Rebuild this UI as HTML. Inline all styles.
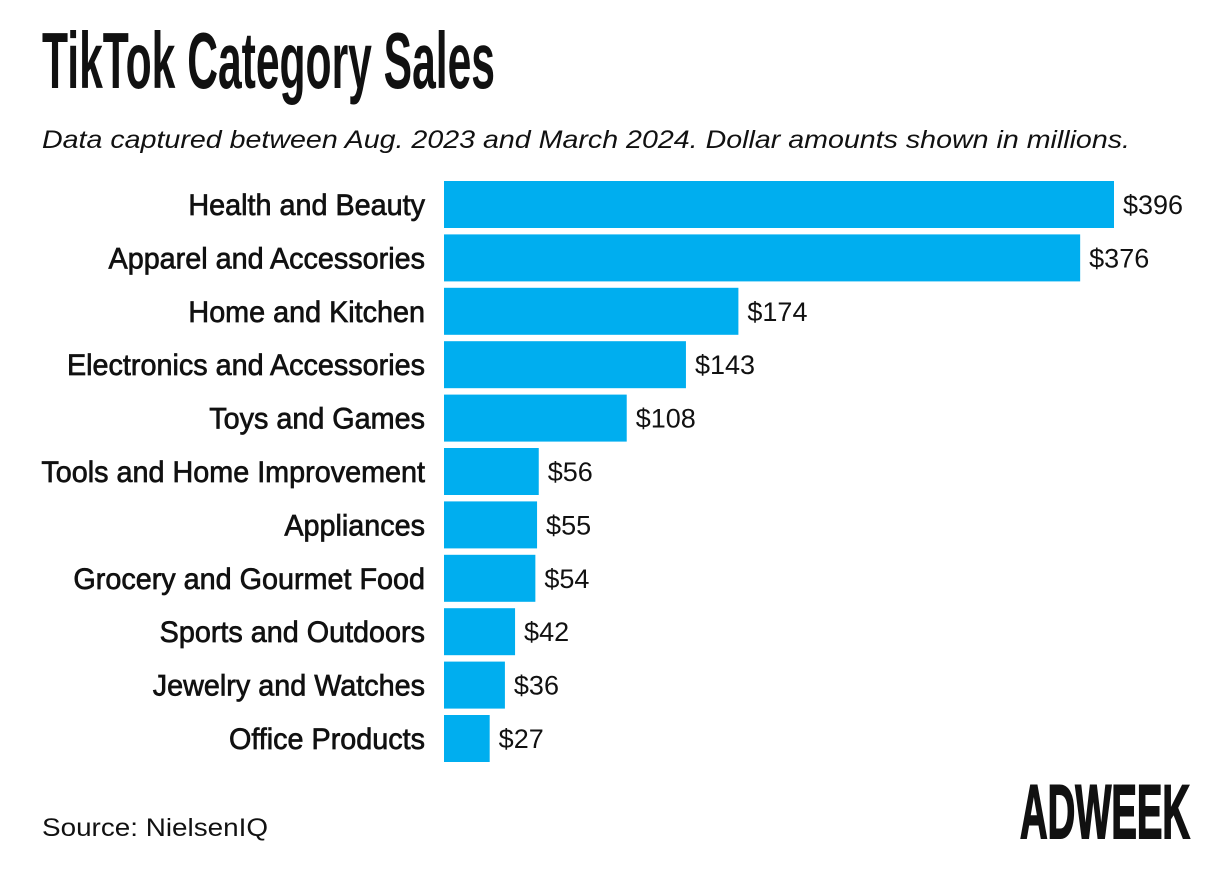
<!DOCTYPE html>
<html><head><meta charset="utf-8"><style>
html,body{margin:0;padding:0;background:#fff;}
svg{display:block;font-family:"Liberation Sans",sans-serif;}
</style></head><body>
<svg id="chart" width="1214" height="873" viewBox="0 0 1214 873">
<text x="42" y="88" font-size="80" font-weight="bold" fill="#111" textLength="453" lengthAdjust="spacingAndGlyphs">TikTok Category Sales</text>
<text x="42" y="148" font-size="25" font-style="italic" fill="#111" textLength="1088" lengthAdjust="spacingAndGlyphs">Data captured between Aug. 2023 and March 2024. Dollar amounts shown in millions.</text>
<g id="bars"></g>
<text x="42" y="836" font-size="25" fill="#111" textLength="226" lengthAdjust="spacingAndGlyphs">Source: NielsenIQ</text>
<text x="1020" y="838" font-size="76" font-weight="bold" fill="#111" stroke="#111" stroke-width="2" textLength="170" lengthAdjust="spacingAndGlyphs">ADWEEK</text>
</svg>
<script>
const categories = ["Health and Beauty","Apparel and Accessories","Home and Kitchen","Electronics and Accessories","Toys and Games","Tools and Home Improvement","Appliances","Grocery and Gourmet Food","Sports and Outdoors","Jewelry and Watches","Office Products"];
const values = [396,376,174,143,108,56,55,54,42,36,27];
const valueLabels = ["$396","$376","$174","$143","$108","$56","$55","$54","$42","$36","$27"];

const NS = "http://www.w3.org/2000/svg";
const g = document.getElementById("bars");
const x0 = 444, pxPerUnit = 670/396, top0 = 181, pitch = 53.4, barH = 47;
function xScale(v){ return x0 + v*pxPerUnit; }
function yScale(i){ return top0 + i*pitch; }
categories.forEach((c,i)=>{
  const y = yScale(i);
  const r = document.createElementNS(NS,"rect");
  
  
  r.setAttribute("x", x0); r.setAttribute("y", y);
  r.setAttribute("width", xScale(values[i]) - x0); r.setAttribute("height", barH);
  r.setAttribute("fill", "#00AEEF");
  g.appendChild(r);
  const l = document.createElementNS(NS,"text");
  
  
  l.setAttribute("x", 425); l.setAttribute("y", y + barH/2 + 10.5);
  l.setAttribute("text-anchor", "end"); l.setAttribute("font-size", "29.5");
  l.setAttribute("fill", "#111"); l.setAttribute("stroke", "#111"); l.setAttribute("stroke-width", "0.7");
  l.setAttribute("transform", "translate(425 0) scale(0.975 1) translate(-425 0)");
  l.textContent = c;
  g.appendChild(l);
  const v = document.createElementNS(NS,"text");
  
  
  v.setAttribute("x", xScale(values[i]) + 9); v.setAttribute("y", y + barH/2 + 9.5);
  v.setAttribute("font-size", "27"); v.setAttribute("fill", "#111");
  v.textContent = valueLabels[i];
  g.appendChild(v);
});
</script>
</body></html>
